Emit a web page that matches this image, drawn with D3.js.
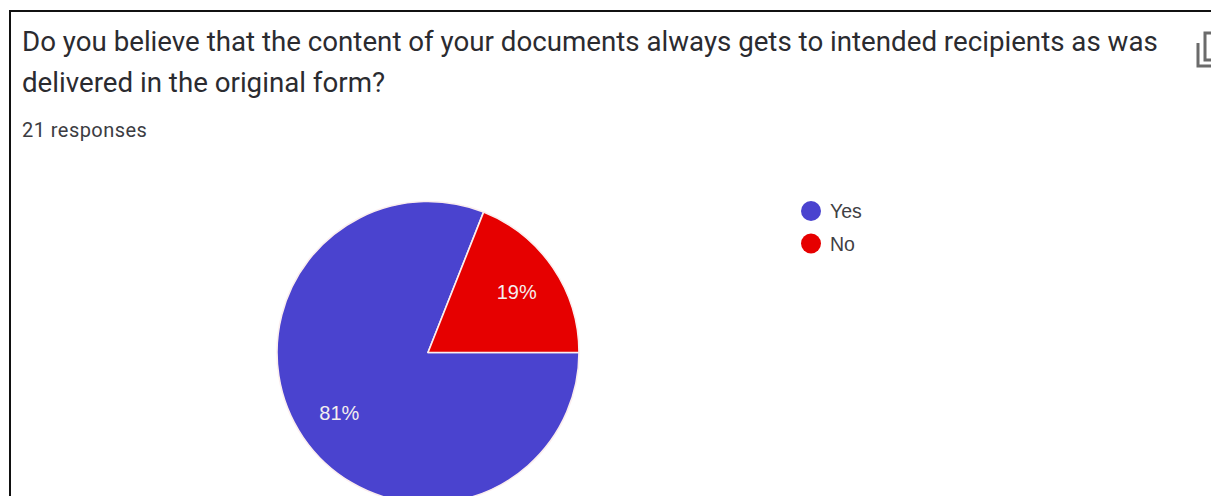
<!DOCTYPE html>
<html>
<head>
<meta charset="utf-8">
<style>
html,body{margin:0;padding:0;background:#fff;overflow:hidden}
svg{display:block}
</style>
<script src="https://cdn.jsdelivr.net/npm/d3@7"></script>
</head>
<body>
<svg id="chart" width="1211" height="496"></svg>
<script>
const titleLines = [
  "Do you believe that the content of your documents always gets to intended recipients as was",
  "delivered in the original form?"
];
const subtitle = "21 responses";
const categories = ["Yes", "No"];
const percentages = [81, 19];
const sliceColors = ["#4a43cf", "#e60000"];

const svg = d3.select("#chart");
const inkDark = "#2b2b30";

// Card edges: only the top and left are inside the frame
svg.append("path")
  .attr("d", "M10 496V11H1211")
  .attr("fill", "none")
  .attr("stroke", "#111")
  .attr("stroke-width", 2);

svg.selectAll("text.title")
  .data(titleLines)
  .join("text")
  .attr("class", "title")
  .attr("x", 22)
  .attr("y", (d, i) => 51 + i * 41)
  .attr("font-family", "Roboto")
  .attr("font-size", 27.7)
  .attr("fill", inkDark)
  .text(d => d);

svg.append("text")
  .attr("x", 22)
  .attr("y", 137)
  .attr("font-family", "Roboto")
  .attr("font-size", 20)
  .attr("letter-spacing", 0.45)
  .attr("fill", "#3c3c42")
  .text(subtitle);

// Copy icon, cut off by the right edge
const icon = svg.append("g")
  .attr("fill", "none")
  .attr("stroke", "#6b6b6b")
  .attr("stroke-width", 3);
icon.append("path").attr("d", "M1198 43V66H1211");
icon.append("path").attr("d", "M1211 33H1205V60H1211");

// Pie, running clockwise from three o'clock
const pieCenter = [428, 352.5];
const pieRadius = 151;
const color = d3.scaleOrdinal(categories, sliceColors);
const pie = d3.pie()
  .sort(null)
  .startAngle(Math.PI / 2)
  .endAngle(Math.PI / 2 + 2 * Math.PI);
const arcs = pie(percentages).map((a, i) => ({ ...a, name: categories[i] }));
const arc = d3.arc().innerRadius(0).outerRadius(pieRadius);
const labelArc = d3.arc().innerRadius(pieRadius * 0.71).outerRadius(pieRadius * 0.71);

const pieGroup = svg.append("g")
  .attr("transform", `translate(${pieCenter})`);

pieGroup.selectAll("path")
  .data(arcs)
  .join("path")
  .attr("d", arc)
  .attr("fill", d => color(d.name))
  .attr("stroke", "#fbeeee")
  .attr("stroke-width", 1.6)
  .attr("stroke-linejoin", "round");

pieGroup.selectAll("text")
  .data(arcs)
  .join("text")
  .attr("transform", d => `translate(${labelArc.centroid(d)})`)
  .attr("text-anchor", "middle")
  .attr("dy", "0.35em")
  .attr("font-family", "Liberation Sans")
  .attr("font-size", 20)
  .attr("fill", "#f4eeee")
  .text((d, i) => percentages[i] + "%");

// Legend
const legendY = d3.scalePoint(categories, [211, 243.5]);
const legend = svg.selectAll("g.legend")
  .data(categories)
  .join("g")
  .attr("class", "legend")
  .attr("transform", d => `translate(811,${legendY(d)})`);
legend.append("circle")
  .attr("r", 10)
  .attr("fill", d => color(d));
legend.append("text")
  .attr("x", 19)
  .attr("dy", "0.36em")
  .attr("font-family", "Liberation Sans")
  .attr("font-size", 19.5)
  .attr("fill", "#3f3f44")
  .text(d => d);
</script>
</body>
</html>
